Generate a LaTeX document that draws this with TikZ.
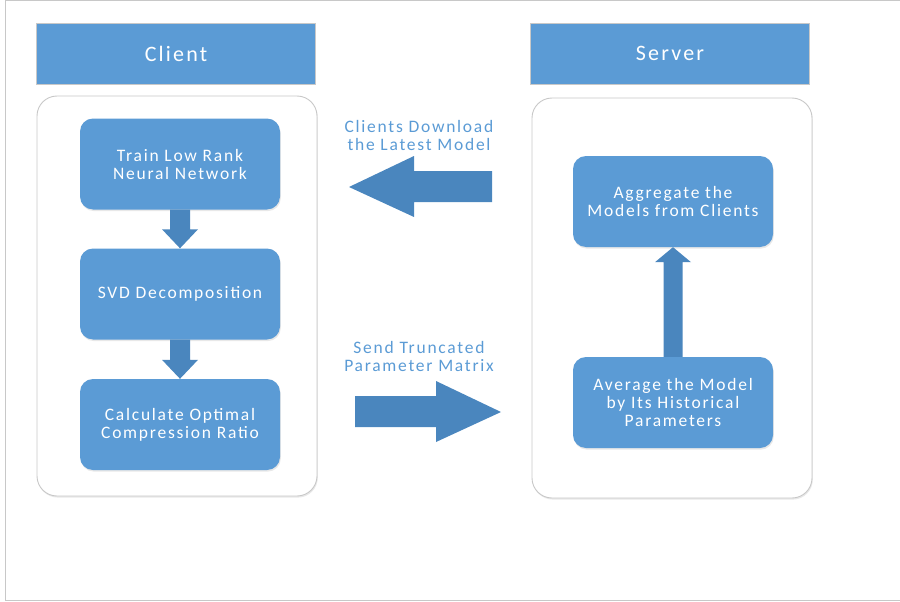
\documentclass[tikz,border=0pt]{standalone}
\usepackage{fontspec}
\setmainfont{Carlito}
\newfontfamily\widefont[LetterSpace=10]{Carlito}
\usetikzlibrary{positioning,calc,shadows}
\definecolor{boxblue}{HTML}{5B9BD5}
\definecolor{arrowblue}{HTML}{4A86BE}
\definecolor{panelgray}{HTML}{C8C8C8}
\tikzset{
  softshadow/.style={drop shadow={opacity=0.18,shadow xshift=0.8pt,shadow yshift=-1.6pt}},
  header/.style={fill=boxblue,draw=panelgray,line width=0.8pt,minimum width=279pt,minimum height=61pt,
    text=white,font=\widefont\fontsize{22}{24}\selectfont},
  panel/.style={draw=panelgray,fill=white,line width=0.9pt,rounded corners=20pt,minimum width=280pt,minimum height=400pt,softshadow},
  stepbox/.style={fill=boxblue,rounded corners=13pt,minimum width=200pt,minimum height=91pt,softshadow,
    text=white,align=center,font=\widefont\fontsize{17.5}{18}\selectfont},
  label/.style={text=boxblue,align=center,font=\widefont\fontsize{17.5}{18}\selectfont},
  blockarrow/.style={fill=arrowblue}
}
\begin{document}
\begin{tikzpicture}[x=1pt,y=-1pt]
\useasboundingbox (0,0) rectangle (900,602);
% outer frame
\draw[panelgray,line width=1pt] (905,1) -- (5,1) -- (5,600) -- (905,600);
% headers and panels
\node[header] (clienthead) at (176,53.5) {Client};
\node[header] (serverhead) at (670,53.5) {Server};
\node[panel] (clientpanel) at (177,296) {};
\node[panel] (serverpanel) at (672,298) {};
% client side
\node[stepbox] (train) at (180,164) {Train Low Rank\\Neural Network};
\node[stepbox] (svd) at (180,294) {SVD Decomposition};
\node[stepbox] (calc) at (180,424.5) {Calculate Optimal\\Compression Ratio};
% server side
\node[stepbox] (agg) at (673,201.5) {Aggregate the\\Models from Clients};
\node[stepbox] (avg) at (673,402.5) {Average the Model\\by Its Historical\\Parameters};
% arrows inside the client
\fill[blockarrow] ($(train.south)+(-10,0)$) -- ($(train.south)+(10,0)$) -- ($(svd.north)+(10,-19)$)
  -- ($(svd.north)+(18,-19)$) -- (svd.north) -- ($(svd.north)+(-18,-19)$) -- ($(svd.north)+(-10,-19)$) -- cycle;
\fill[blockarrow] ($(svd.south)+(-10,0)$) -- ($(svd.south)+(10,0)$) -- ($(calc.north)+(10,-19)$)
  -- ($(calc.north)+(18,-19)$) -- (calc.north) -- ($(calc.north)+(-18,-19)$) -- ($(calc.north)+(-10,-19)$) -- cycle;
% arrow inside the server
\fill[blockarrow] ($(avg.north)+(-9.5,0)$) -- ($(avg.north)+(9.5,0)$) -- ($(agg.south)+(9.5,15)$)
  -- ($(agg.south)+(18,15)$) -- (agg.south) -- ($(agg.south)+(-18,15)$) -- ($(agg.south)+(-9.5,15)$) -- cycle;
% arrows between client and server
\node[label] (download) at (419,135) {Clients Download\\the Latest Model};
\fill[blockarrow] (492,171) -- (414,171) -- (414,156) -- (349,187) -- (414,217) -- (414,202) -- (492,202) -- cycle;
\node[label] (send) at (419,356) {Send Truncated\\Parameter Matrix};
\fill[blockarrow] (355,396) -- (436,396) -- (436,381) -- (501,412) -- (436,442) -- (436,427) -- (355,427) -- cycle;
\end{tikzpicture}
\end{document}
